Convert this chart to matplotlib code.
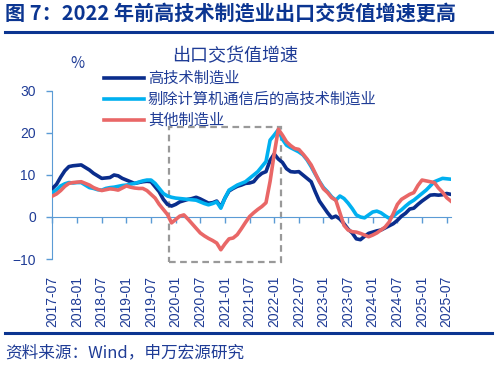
import numpy as np
import matplotlib
matplotlib.use("Agg")
import matplotlib.pyplot as plt
from matplotlib.patches import Rectangle

plt.rcParams['font.family'] = ['Noto Sans CJK SC', 'DejaVu Sans']

# monthly data, 2017-07 .. 2025-08
hi_tech = [6.8, 7.8, 9.5, 11.0, 12.0, 12.2, 12.3, 12.4, 11.8, 11.2,
           10.4, 9.8, 9.2, 9.3, 9.4, 10.0, 9.8, 9.2, 8.8, 8.4,
           8.0, 8.2, 8.4, 8.5, 8.4, 7.2, 6.0, 4.2, 3.0, 2.6,
           3.0, 3.6, 3.9, 4.2, 4.4, 4.7, 4.3, 3.8, 3.3, 3.4,
           3.8, 2.4, 4.5, 6.2, 6.8, 7.3, 7.6, 8.0, 8.1, 8.4,
           9.6, 10.4, 10.8, 13.5, 15.0, 13.8, 13.0, 11.5, 10.8, 10.7,
           10.8, 10.0, 9.2, 8.4, 6.0, 3.8, 2.4, 1.0, -0.2, 0.2,
           -0.5, -1.6, -2.9, -3.8, -5.2, -5.4, -4.6, -3.9, -3.6, -3.3,
           -3.1, -2.6, -2.1, -1.6, -0.8, 0.2, 0.9, 1.9, 2.1, 3.0,
           3.8, 4.5, 5.2, 5.3, 5.2, 5.3, 5.6, 5.4]
hi_tech_ex = [5.8, 6.5, 7.4, 7.9, 8.2, 8.1, 8.2, 8.2, 7.6, 7.0,
              6.8, 6.5, 6.4, 6.8, 7.0, 7.1, 7.3, 7.5, 7.6, 7.8,
              8.0, 8.3, 8.6, 8.8, 8.8, 8.0, 6.8, 5.6, 5.0, 4.7,
              4.5, 4.4, 4.3, 4.2, 4.1, 4.0, 3.6, 3.2, 2.9, 3.2,
              3.6, 2.1, 4.5, 6.4, 7.0, 7.6, 8.0, 8.4, 9.2, 10.0,
              10.8, 12.0, 13.2, 18.3, 19.5, 20.8, 18.5, 17.1, 16.5, 16.0,
              15.5, 14.8, 13.6, 12.0, 10.2, 8.5, 7.0, 6.0, 4.8, 4.0,
              5.0, 4.4, 3.3, 2.0, 0.5, 0.0, -0.2, 0.5, 1.2, 1.4,
              1.0, 0.3, -0.3, 0.2, 1.0, 1.7, 2.6, 3.4, 4.0, 4.8,
              5.6, 6.4, 7.4, 8.4, 8.8, 9.2, 9.1, 9.0]
other = [5.0, 5.5, 6.3, 7.3, 8.0, 8.2, 8.3, 8.4, 8.0, 7.6,
         7.0, 6.6, 6.3, 6.5, 6.7, 6.6, 6.4, 6.9, 7.4, 7.1,
         6.9, 6.8, 6.8, 6.3, 5.4, 4.5, 3.0, 1.8, 0.6, -1.4,
         -0.6, 0.2, 0.5, -0.5, -1.6, -2.7, -3.8, -4.5, -5.1, -5.6,
         -6.2, -7.8, -6.4, -5.2, -5.0, -4.2, -2.8, -1.3, 0.1, 1.0,
         1.8, 2.5, 3.4, 8.5, 15.0, 20.9, 19.5, 17.9, 17.0, 16.3,
         16.1, 15.0, 13.8, 12.4, 10.4, 8.4, 6.7, 5.8, 4.6, 4.0,
         1.0, -2.0, -3.1, -3.5, -3.6, -3.9, -4.3, -4.7, -4.3, -3.8,
         -3.1, -2.4, -1.2, 0.8, 3.0, 4.2, 4.8, 5.4, 5.8, 7.5,
         8.8, 8.6, 8.4, 8.2, 6.9, 5.9, 4.6, 3.8]

tick_labels = ['2017-07', '2018-01', '2018-07', '2019-01', '2019-07', '2020-01',
               '2020-07', '2021-01', '2021-07', '2022-01', '2022-07', '2023-01',
               '2023-07', '2024-01', '2024-07', '2025-01', '2025-07']

navy = '#0A2D8C'
light = '#00B0F0'
red = '#E96767'
txt = '#1F3C96'
axc = '#5B9BD5'

x = np.arange(len(hi_tech))

fig = plt.figure(figsize=(4.96, 3.69), dpi=100)
ax = fig.add_axes([0.1058, 0.2981, 0.803, 0.4553])

ax.plot(x, hi_tech, color=navy, lw=2.6, label='高技术制造业', zorder=3)
ax.plot(x, hi_tech_ex, color=light, lw=2.6, label='剔除计算机通信后的高技术制造业', zorder=4)
ax.plot(x, other, color=red, lw=2.6, label='其他制造业', zorder=5)

# highlight box 2019-12 .. 2022-02
ax.add_patch(Rectangle((28.5, -10.6), 27.2, 32.1, fill=False, ec='#999999',
                       lw=1.6, ls=(0, (3, 2)), clip_on=False, zorder=2))

ax.set_xlim(0, len(hi_tech) - 1)
ax.set_ylim(-10, 30)
ax.set_yticks([-10, 0, 10, 20, 30])

for s in ['top', 'right']:
    ax.spines[s].set_visible(False)
ax.spines['left'].set_color(axc)
ax.spines['bottom'].set_color(axc)
ax.spines['bottom'].set_position(('data', 0))
ax.tick_params(axis='y', colors=axc, length=4, width=1, pad=8, labelsize=10,
               labelcolor=txt)
ax.set_xticks(np.arange(0, 97, 6))
ax.tick_params(axis='x', colors=axc, length=4, width=1, labelbottom=False)
for t in ax.get_yticklabels():
    t.set_fontfamily(['Liberation Sans', 'DejaVu Sans'])

sec = ax.secondary_xaxis(0)
sec.set_xticks(np.arange(0, 97, 6))
sec.set_xticklabels(tick_labels, rotation=90, fontsize=10, color=txt,
                    fontfamily=['Liberation Sans', 'DejaVu Sans'])
sec.tick_params(axis='x', length=0, pad=12)
sec.spines['bottom'].set_visible(False)

leg = ax.legend(loc='upper left', bbox_to_anchor=(0.13, 1.125), frameon=False,
                fontsize=11, handlelength=2.6, handletextpad=0.25,
                labelspacing=0.26, borderaxespad=0, borderpad=0)
for t in leg.get_texts():
    t.set_color(txt)

fig.text(0.474, 0.848, '出口交货值增速', fontsize=13, color=txt, ha='center', va='center')
fig.text(0.157, 0.829, '%', fontsize=11, color=txt, ha='center', va='center')

fig.text(0.01, 0.965, '图 7：2022 年前高技术制造业出口交货值增速更高', fontsize=14.5,
         fontweight='bold', color='#0B3591', ha='left', va='center')
fig.add_artist(plt.Line2D([0.01, 0.992], [0.912, 0.912], color='#0B3591', lw=2.2))
fig.add_artist(plt.Line2D([0.01, 0.992], [0.097, 0.097], color='#0B3591', lw=2.2))
fig.text(0.01, 0.043, '资料来源：Wind，申万宏源研究', fontsize=12, color=txt,
         ha='left', va='center')

fig.savefig('out.png', dpi=100)
